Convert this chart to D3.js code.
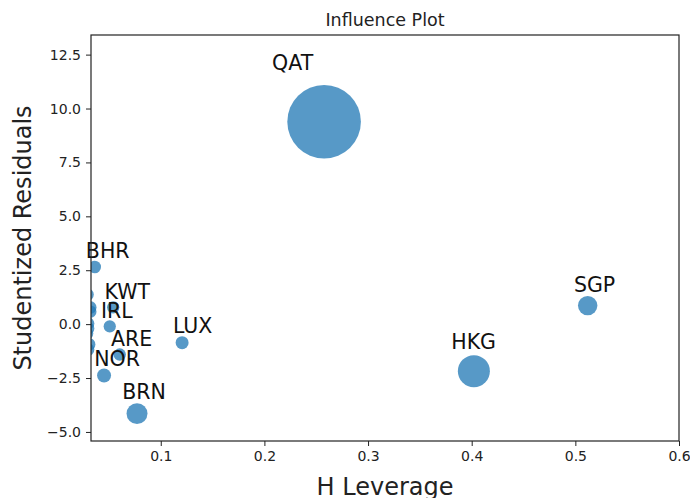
<!DOCTYPE html>
<html>
<head>
<meta charset="utf-8">
<script src="https://cdn.jsdelivr.net/npm/d3@7"></script>
<style>
  body { margin: 0; background: #fff; }
  svg { font-family: "DejaVu Sans", sans-serif; }
</style>
</head>
<body>
<div id="plot"></div>
<script>
// influence plot data
const labels   = ["QAT", "HKG", "SGP", "BRN", "NOR", "LUX", "ARE", "IRL", "KWT", "BHR", "", "", "", "", "", "", "", ""];
const leverage = [0.2576, 0.4021, 0.5119, 0.0771, 0.0453, 0.1206, 0.0604, 0.0508, 0.0541, 0.0363, 0.0295, 0.0320, 0.0320, 0.0300, 0.0300, 0.0290, 0.0310, 0.0300];
const studres  = [9.39, -2.18, 0.86, -4.15, -2.38, -0.86, -1.41, -0.10, 0.78, 2.65, 1.37, 0.77, 0.58, 0.03, -0.20, -0.44, -0.94, -1.18];
const cooks    = [2.0, 0.332, 0.086, 0.110, 0.017, 0.007, 0.001, 0.0, 0.0, 0.003, 0.0, 0.002, 0.002, 0.0, 0.0, 0.0, 0.001, 0.0];
const xTicks = [0.1, 0.2, 0.3, 0.4, 0.5, 0.6];
const yTicks = [-5.0, -2.5, 0.0, 2.5, 5.0, 7.5, 10.0, 12.5];

const width = 690, height = 498;
const margin = {top: 35, right: 11, bottom: 57, left: 91};
const w = width - margin.left - margin.right;
const h = height - margin.top - margin.bottom;

const svg = d3.select("div#plot")
  .append("svg")
  .attr("width", width)
  .attr("height", height);

const g = svg.append("g")
  .attr("transform", `translate(${margin.left},${margin.top})`);

const x = d3.scaleLinear().domain([0.0327, 0.6]).range([0, w]);
const y = d3.scaleLinear().domain([-5.42, 13.41]).range([h, 0]);

// marker area in pt^2 grows linearly with cook's distance (8^2 .. 48^2)
const area = d3.scaleLinear().domain(d3.extent(cooks)).range([64, 48 * 48]);
const ptToPx = 1.533;
function radius(i) { return Math.sqrt(area(cooks[i])) / 2 * ptToPx; }

svg.append("defs").append("clipPath")
  .attr("id", "clip")
  .append("rect")
  .attr("width", w)
  .attr("height", h);

const data = labels.map(function(l, i) {
  return {label: l, x: leverage[i], y: studres[i], r: radius(i)};
});

g.append("g")
  .attr("clip-path", "url(#clip)")
  .selectAll("circle")
  .data(data)
  .join("circle")
  .attr("cx", d => x(d.x))
  .attr("cy", d => y(d.y))
  .attr("r", d => d.r)
  .attr("fill", "#1f77b4")
  .attr("fill-opacity", 0.75);

// labels offset by sqrt(s/2) points up-left, like statsmodels
g.selectAll(".lab")
  .data(data.filter(d => d.label !== ""))
  .join("text")
  .attr("class", "lab")
  .attr("x", d => x(d.x) - Math.SQRT2 * d.r)
  .attr("y", d => y(d.y) - Math.SQRT2 * d.r)
  .style("font-size", "20.5px")
  .style("fill", "#111")
  .text(d => d.label);

const xAxis = g.append("g")
  .attr("transform", `translate(0,${h})`)
  .call(d3.axisBottom(x).tickValues(xTicks).tickFormat(d3.format(".1f")).tickSize(5).tickPadding(5));

const yAxis = g.append("g")
  .call(d3.axisLeft(y).tickValues(yTicks).tickFormat(d3.format(".1f")).tickSize(5).tickPadding(5));

[xAxis, yAxis].forEach(function(a) {
  a.select(".domain").remove();
  a.selectAll("line").attr("stroke", "#222");
  a.selectAll("text")
    .style("font-family", "DejaVu Sans")
    .style("font-size", "14px")
    .style("fill", "#222");
});

g.append("rect")
  .attr("width", w)
  .attr("height", h)
  .attr("fill", "none")
  .attr("stroke", "#222")
  .attr("stroke-width", 1.2);

svg.append("text")
  .attr("x", margin.left + w / 2)
  .attr("y", 26)
  .attr("text-anchor", "middle")
  .style("font-size", "17.5px")
  .style("fill", "#222")
  .text("Influence Plot");

svg.append("text")
  .attr("x", margin.left + w / 2)
  .attr("y", 495)
  .attr("text-anchor", "middle")
  .style("font-size", "24px")
  .style("fill", "#222")
  .text("H Leverage");

svg.append("text")
  .attr("transform", `translate(31,${margin.top + h / 2}) rotate(-90)`)
  .attr("text-anchor", "middle")
  .style("font-size", "24px")
  .style("fill", "#222")
  .text("Studentized Residuals");
</script>
</body>
</html>
